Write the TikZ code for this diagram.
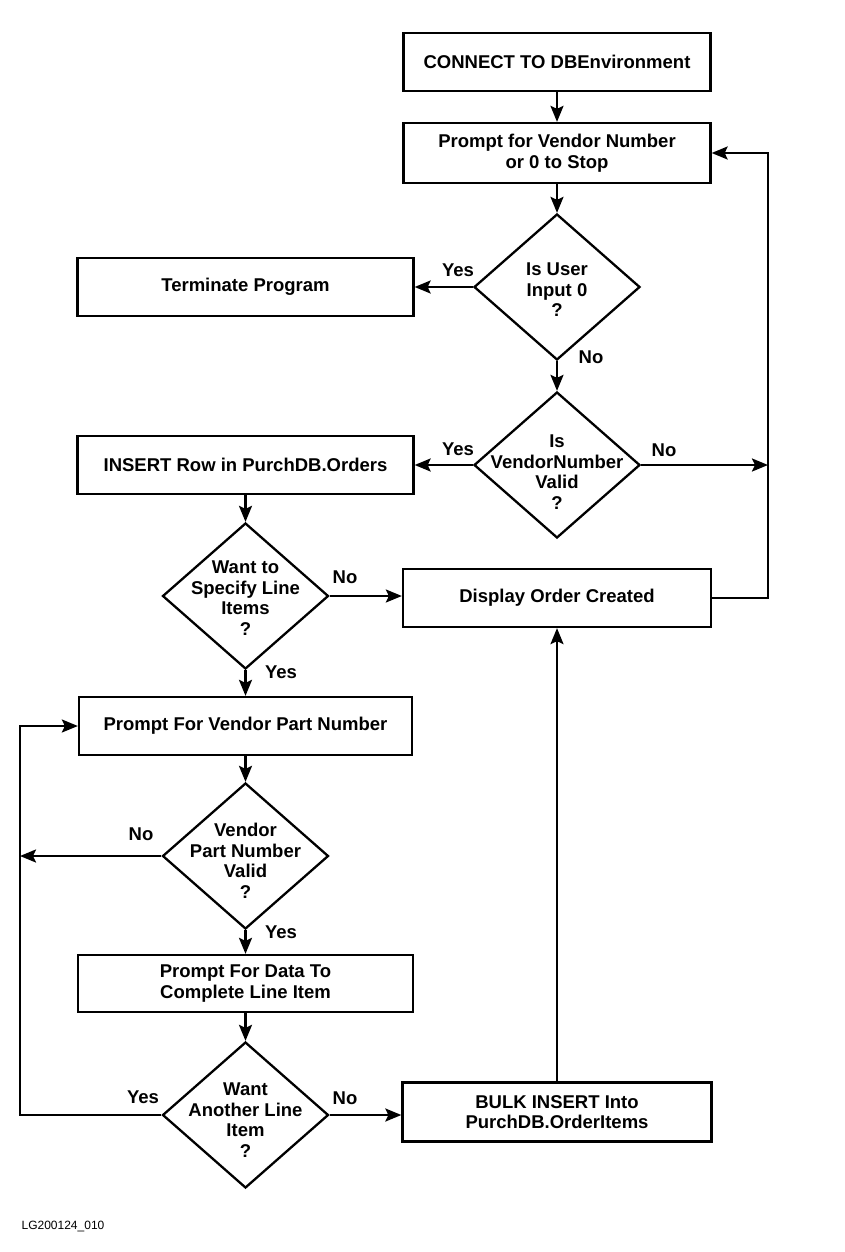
\documentclass[tikz,border=0pt]{standalone}
\usepackage{fontspec}
\setmainfont{Liberation Sans}
\usetikzlibrary{shapes.geometric,arrows.meta}
\begin{document}
\begin{tikzpicture}[x=1pt,y=-1pt,
  every node/.style={font=\bfseries\fontsize{18.5}{20.5}\selectfont},
  procbox/.style={draw,line width=2.3pt,rectangle,align=center,inner sep=0pt,minimum height=58pt},
  decbox/.style={draw,line width=2.3pt,diamond,inner sep=0pt,minimum width=166pt,minimum height=146pt},
  dectext/.style={align=center,inner sep=0pt},
  lbl/.style={inner sep=0pt},
  conn/.style={line width=2.3pt,-{Stealth[length=16pt,width=13pt,inset=3pt]}},
]
\useasboundingbox (0,0) rectangle (844,1252);

% right column
\node[procbox,minimum width=307pt] (b1) at (557,62) {CONNECT TO DBEnvironment};
\node[procbox,minimum width=307pt,minimum height=60pt] (b2) at (557,153) {Prompt for Vendor Number\\or 0 to Stop};
\node[decbox] (d1) at (557,287) {};
\node[dectext] (t1) at (557,290) {Is User\\Input 0\\?};
\node[decbox] (d2) at (557,465) {};
\node[dectext] (t2) at (557,472) {Is\\VendorNumber\\Valid\\?};
\node[procbox,minimum width=308pt] (disp) at (557,598) {Display Order Created};
\node[procbox,minimum width=309pt,minimum height=59pt] (bulk) at (557,1112) {BULK INSERT Into\\PurchDB.OrderItems};

% left column
\node[procbox,minimum width=336pt] (term) at (245.5,287) {Terminate Program};
\node[procbox,minimum width=336pt] (ins) at (245.5,465) {INSERT Row in PurchDB.Orders};
\node[decbox] (d3) at (245.5,596) {};
\node[dectext] (t3) at (245.5,598) {Want to\\Specify Line\\Items\\?};
\node[procbox,minimum width=333pt] (pp) at (245.5,726) {Prompt For Vendor Part Number};
\node[decbox] (d4) at (245.5,856) {};
\node[dectext] (t4) at (245.5,861) {Vendor\\Part Number\\Valid\\?};
\node[procbox,minimum width=335pt,minimum height=57pt] (pd) at (245.5,983.5) {Prompt For Data To\\Complete Line Item};
\node[decbox] (d5) at (245.5,1115) {};
\node[dectext] (t5) at (245.5,1120) {Want\\Another Line\\Item\\?};

% loop coordinates
\coordinate (r1) at (768,598);
\coordinate (r2) at (768,153);
\coordinate (r3) at (768,465);
\coordinate (l1) at (20,1115);
\coordinate (l2) at (20,726);
\coordinate (l3) at (20,856);

% vertical arrows
\draw[conn] (b1.south) -- (b2.north);
\draw[conn] (b2.south) -- (d1.north);
\draw[conn] (d1.south) -- (d2.north);
\draw[conn] (ins.south) -- (d3.north);
\draw[conn] (d3.south) -- (pp.north);
\draw[conn] (pp.south) -- (d4.north);
\draw[conn] (d4.south) -- (pd.north);
\draw[conn] (pd.south) -- (d5.north);
\draw[conn] (bulk.north) -- (disp.south);

% horizontal arrows
\draw[conn] (d1.west) -- (term.east);
\draw[conn] (d2.west) -- (ins.east);
\draw[conn] (d2.east) -- (r3);
\draw[conn] (d3.east) -- (disp.west |- d3.east);
\draw[conn] (disp.east) -- (r1) -- (r2) -- (b2.east);
\draw[conn] (d4.west) -- (l3);
\draw[conn] (d5.west) -- (l1) -- (l2) -- (pp.west);
\draw[conn] (d5.east) -- (bulk.west |- d5.east);

% labels
\node[lbl] (y1) at (458,270) {Yes};
\node[lbl] (n1) at (591,357) {No};
\node[lbl] (y2) at (458,449) {Yes};
\node[lbl] (n2) at (664,450) {No};
\node[lbl] (n3) at (345,577) {No};
\node[lbl] (y3) at (281,672) {Yes};
\node[lbl] (n4) at (141,834) {No};
\node[lbl] (y4) at (281,932) {Yes};
\node[lbl] (y5) at (143,1097) {Yes};
\node[lbl] (n5) at (345,1098) {No};

\node[lbl,font=\fontsize{12}{13}\selectfont] (foot) at (63,1226) {LG200124\_010};
\end{tikzpicture}
\end{document}
